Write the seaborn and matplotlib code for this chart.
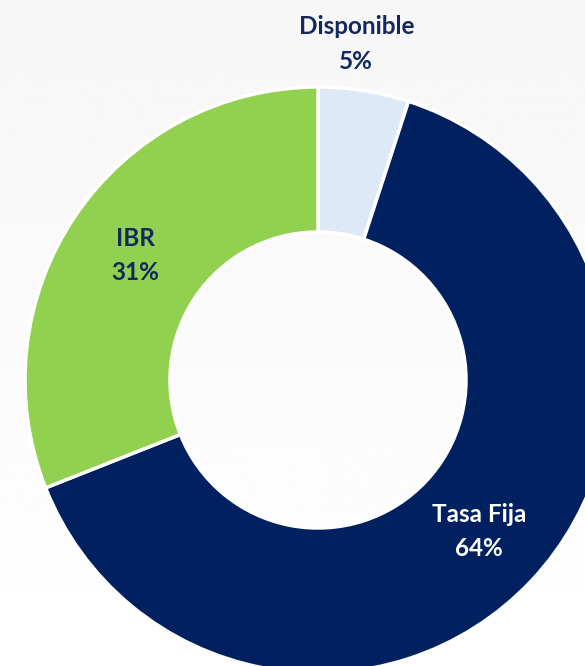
import numpy as np
import matplotlib
matplotlib.use("Agg")
import matplotlib.pyplot as plt
import seaborn as sns

categories = ["Disponible", "Tasa Fija", "IBR"]
values = [5, 64, 31]
pct_labels = ["5%", "64%", "31%"]
colors = ["#dde9f6", "#002060", "#92d050"]
text_colors = ["#13295e", "#ffffff", "#13295e"]

sns.set_theme(style="white")
plt.rcParams['font.family'] = ['Lato', 'DejaVu Sans']

W, H = 585, 666
fig = plt.figure(figsize=(W / 100, H / 100), dpi=100)
ax = fig.add_axes([0, 0, 1, 1])

# background gradient (white at top to light gray at bottom)
grad = np.linspace(1.0, 0.965, 256).reshape(-1, 1)
ax.imshow(grad, extent=[0, W, H, 0], cmap="gray", vmin=0, vmax=1,
          aspect="auto", zorder=0)

cx, cy = 318, H - 380
R, r_in = 293, 148
wedges, _ = ax.pie(values, colors=colors, startangle=90, counterclock=False,
                   center=(cx, cy), radius=R, frame=True,
                   wedgeprops=dict(width=R - r_in, edgecolor="white", linewidth=2.5))
for w in wedges:
    w.set_zorder(2)
ax.set_xlim(0, W)
ax.set_ylim(0, H)
ax.set_aspect("equal")
ax.axis("off")

label_r = [338, 221, 221]
angle_shift = [2.5, 0, 0]
for w, cat, pct, tc, lr, sh in zip(wedges, categories, pct_labels, text_colors,
                                   label_r, angle_shift):
    ang = np.deg2rad((w.theta1 + w.theta2) / 2 + sh)
    x = cx + lr * np.cos(ang)
    y = cy + lr * np.sin(ang)
    ax.text(x, y, f"{cat}\n{pct}", ha="center", va="center", color=tc,
            fontsize=17.5, fontweight="bold", linespacing=1.6, zorder=3)

fig.savefig("out.png", dpi=100)
